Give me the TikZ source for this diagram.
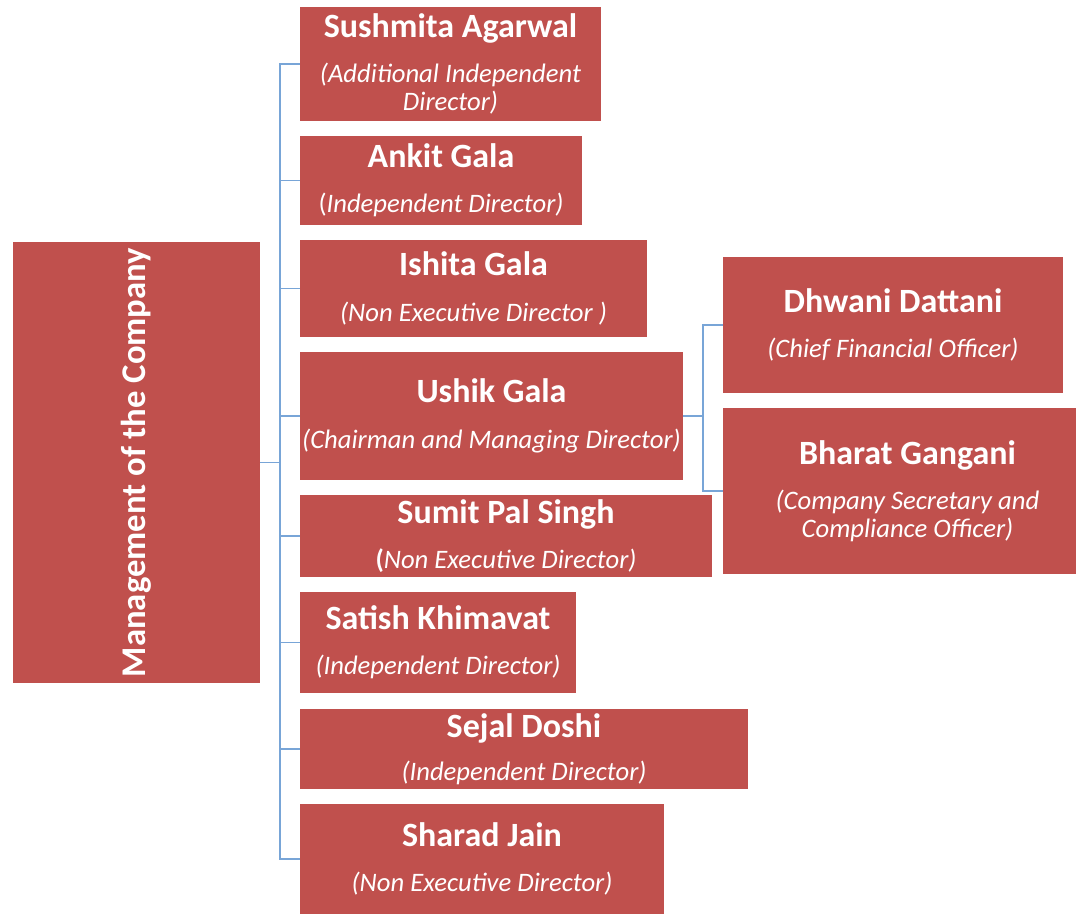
\documentclass[tikz,border=0pt]{standalone}
\usepackage{fontspec}
\setmainfont{Carlito}
\definecolor{boxred}{RGB}{192,80,77}
\definecolor{linkblue}{RGB}{120,165,215}
\newcommand\who[1]{{\fontsize{25.5}{21}\selectfont\bfseries #1}}

\begin{document}
\begin{tikzpicture}[x=0.75pt,y=-0.75pt,
    box/.style 2 args={fill=boxred, text=white, inner sep=0pt, align=center,
        minimum width=#1*0.75pt, minimum height=#2*0.75pt,
        font=\fontsize{20}{21}\selectfont},
    link/.style={draw=linkblue, line width=1.3pt}]
    \useasboundingbox (0,0) rectangle (1076,915);

    \node[box={247}{441}] (mgmt) at (136.5,462.5)
        {\rotatebox{90}{{\fontsize{26}{26}\selectfont\bfseries Management of the Company}}};

    \node[box={301}{114}] (sushmita) at (450.5,64)
        {\who{Sushmita Agarwal}\\[13pt]\textit{(Additional Independent}\\\textit{Director)}};
    \node[box={282}{89}] (ankit) at (441,180.5)
        {\who{Ankit Gala}\\[13pt](\textit{Independent Director)}};
    \node[box={347}{97}] (ishita) at (473.5,288.5)
        {\who{Ishita Gala}\\[13pt]\textit{(Non Executive Director )}};
    \node[box={383}{128}] (ushik) at (491.5,416)
        {\who{Ushik Gala}\\[13pt]\textit{(Chairman and Managing Director)}};
    \node[box={412}{82}] (sumit) at (506,536)
        {\who{Sumit Pal Singh}\\[13pt]\textbf{(}\textit{Non Executive Director)}};
    \node[box={276}{101}] (satish) at (438,642.5)
        {\who{Satish Khimavat}\\[13pt]\textit{(Independent Director)}};
    \node[box={448}{80}] (sejal) at (524,749)
        {\who{Sejal Doshi}\\[11pt]\textit{(Independent Director)}};
    \node[box={364}{110}] (sharad) at (482,859)
        {\who{Sharad Jain}\\[13pt]\textit{(Non Executive Director)}};

    \node[box={340}{136}] (dhwani) at (893,325)
        {\who{Dhwani Dattani}\\[13pt]\textit{(Chief Financial Officer)}};
    \node[box={353}{166}] (bharat) at (899.5,491)
        {\hspace{12pt}\who{Bharat Gangani}\\[13pt]\hspace{12pt}\textit{(Company Secretary and}\\\hspace{12pt}\textit{Compliance Officer)}};

    % board
    \foreach \n in {sushmita,ankit,ishita,ushik,sumit,satish,sejal,sharad}
        \draw[link] (mgmt.east) -- ++(20,0) |- (\n.west);
    % reporting to the chairman
    \foreach \n in {dhwani,bharat}
        \draw[link] (ushik.east) -- ++(20,0) |- (\n.west);
\end{tikzpicture}
\end{document}
